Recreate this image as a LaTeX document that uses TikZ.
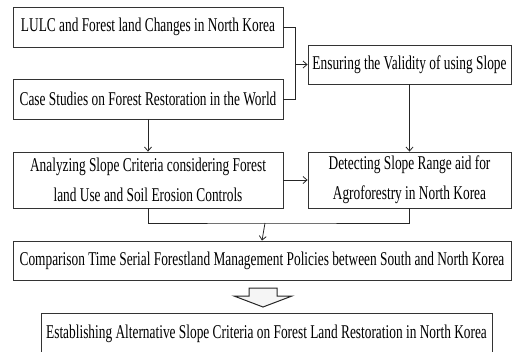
\documentclass[tikz,border=0pt]{standalone}
\usepackage{fontspec}
\setmainfont{Liberation Serif}[FakeStretch=0.685]
\usetikzlibrary{arrows.meta}

\begin{document}
\begin{tikzpicture}[
    x=1pt, y=-1pt,
    >={Straight Barb[length=4pt,width=7pt]},
    line width=0.8pt,
    stepbox/.style={draw=black!80, rectangle, align=center, inner sep=0pt,
        font=\fontsize{19.5}{30}\selectfont},
    link/.style={->, black!85},
]
\clip (0,0) rectangle (513,351);

% Boxes
\node[stepbox, minimum width=270pt, minimum height=40pt] (lulc) at (148,27)
    {LULC and Forest land Changes in North Korea};
\node[stepbox, minimum width=270pt, minimum height=40pt] (cases) at (148,99)
    {Case Studies on Forest Restoration in the World};
\node[stepbox, minimum width=203pt, minimum height=39pt] (valid) at (409.5,64.5)
    {Ensuring the Validity of using Slope};
\node[stepbox, minimum width=270pt, minimum height=56pt] (analyze) at (148,180)
    {Analyzing Slope Criteria considering Forest\\land Use and Soil Erosion Controls};
\node[stepbox, minimum width=203pt, minimum height=56pt] (detect) at (409.5,180)
    {Detecting Slope Range aid for\\Agroforestry in North Korea};
\node[stepbox, minimum width=498pt, minimum height=39pt] (compare) at (262,260.5)
    {Comparison Time Serial Forestland Management Policies between South and North Korea};
\node[stepbox, minimum width=451pt, minimum height=42pt] (establish) at (266.5,334)
    {Establishing Alternative Slope Criteria on Forest Land Restoration in North Korea};

% Join points
\coordinate (join) at (295,64.5);
\coordinate (bus) at (265,223);

% Connectors
\draw[black!85] (lulc.east) -| (join);
\draw[black!85] (cases.east) -| (join);
\draw[link] (join) -- (valid.west);
\draw[link] (cases.south) -- (analyze.north);
\draw[link] (valid.south) -- (detect.north);
\draw[link] (analyze.east) -- (detect.west);
\draw[black!85] (analyze.south) |- (bus) -| (detect.south);
\draw[link] (bus) -- (compare.north);

% Block arrow
\draw[black!85, fill=black!4, line width=1pt, line join=miter]
    (249,288) -- (277,288) -- (277,296) -- (292,296) -- (263,307)
    -- (234,296) -- (249,296) -- cycle;
\end{tikzpicture}
\end{document}
